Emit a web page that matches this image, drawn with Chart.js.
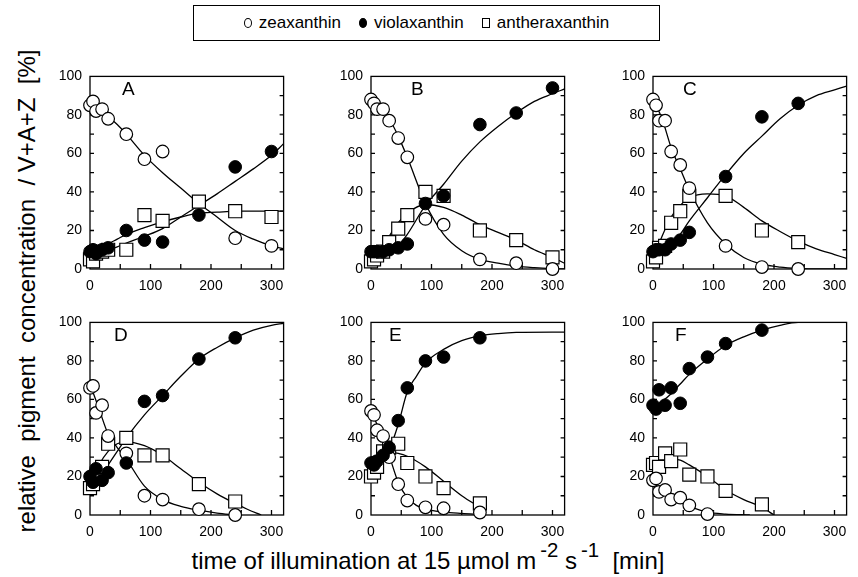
<!DOCTYPE html>
<html>
<head>
<meta charset="utf-8">
<script src="https://cdn.jsdelivr.net/npm/chart.js@4.4.1/dist/chart.umd.min.js"></script>
<style>
  body { margin: 0; background: #fff; }
  #page { position: relative; width: 858px; height: 577px; overflow: hidden;
          font-family: "Liberation Sans", Arial, sans-serif; color: #000; }
  #page canvas { position: absolute; }
  .letter { position: absolute; font-size: 19px; line-height: 19px; }
  #legend { position: absolute; left: 193px; top: 5px; width: 467px; height: 36px;
            border: 1.5px solid #000; box-sizing: border-box; font-size: 17px;
            display: flex; align-items: center; justify-content: center; }
  #legend .item { display: flex; align-items: center; margin: 0 9px; }
  #legend .sym { display: inline-block; width: 8px; height: 10px; margin-right: 7px;
                 box-sizing: border-box; border: 1.3px solid #000; }
  #legend .circ { border-radius: 50%; }
  #legend .fill { background: #000; }
  #ytitle { position: absolute; left: -273px; top: 277px; width: 600px; height: 28px;
            line-height: 28px; text-align: center; font-size: 24px; transform: rotate(-90deg);
            white-space: pre; }
  #xtitle { position: absolute; left: 128px; top: 547px; width: 600px; height: 28px;
            line-height: 28px; text-align: center; font-size: 24px; white-space: pre; }
  #xtitle sup { font-size: 0.85em; line-height: 0; position: relative; top: -0.15em; margin-left: 4px; }
</style>
</head>
<body>
<div id="page">
  <div id="legend">
    <span class="item"><span class="sym circ"></span>zeaxanthin</span>
    <span class="item"><span class="sym circ fill"></span>violaxanthin</span>
    <span class="item"><span class="sym"></span>antheraxanthin</span>
  </div>
  <div id="ytitle">relative  pigment  concentration  / V+A+Z  [%]</div>
  <div id="xtitle">time of illumination at 15 µmol m<sup>-2</sup> s<sup>-1</sup>  [min]</div>
</div>
<script>
// sampling times and measured values per panel
const tA = [0, 5, 10, 20, 30, 60, 90, 120, 180, 240, 300];
const zeaA = [85, 87, 82, 83, 78, 70, 57, 61, null, 16, 12];
const violaA = [9, 10, 8, 10, 11, 20, 15, 14, 28, 53, 61];
const antheraA = [5, 4, 8, 9, 10, 10, 28, 25, 35, 30, 27];

const tB = [0, 5, 10, 20, 30, 45, 60, 90, 120, 180, 240, 300];
const zeaB = [88, 86, 83, 83, 77, 68, 58, 26, 23, 5, 3, 0];
const violaB = [9, 9, 9, 9, 10, 11, 13, 34, 38, 75, 81, 94];
const antheraB = [4, 5, 7, 9, 14, 21, 28, 40, 38, 20, 15, 6];

const tC = [0, 5, 10, 20, 30, 45, 60, 120, 180, 240];
const zeaC = [88, 85, 77, 77, 61, 54, 42, 12, 1, 0];
const violaC = [9, 10, 10, 10, 13, 15, 19, 48, 79, 86];
const antheraC = [4, 6, 11, 12, 24, 30, 38, 38, 20, 14];

const tD = [0, 5, 10, 20, 30, 60, 90, 120, 180, 240];
const zeaD = [66, 67, 53, 57, 41, 32, 10, 8, 3, 0];
const violaD = [20, 17, 24, 18, 22, 27, 59, 62, 81, 92];
const antheraD = [14, 16, 20, 25, 37, 40, 31, 31, 16, 7];

const tE = [0, 5, 10, 20, 30, 45, 60, 90, 120, 180];
const zeaE = [54, 52, 44, 41, 30, 16, 7.5, 4, 3.5, 1.3];
const violaE = [27, 26, 28, 31, 35, 49, 66, 80, 82, 92];
const antheraE = [20, 22, 25, 33, 35, 37, 27, 20, 14, 6];

const tF = [0, 5, 10, 20, 30, 45, 60, 90, 120, 180];
const zeaF = [18, 19, 12, 13, 8, 9, 5, 0.5, null, null];
const violaF = [57, 55, 65, 57, 66, 58, 76, 82, 89, 96];
const antheraF = [26, 27, 25, 32, 28, 34, 21, 20, 12.5, 5.5];

// fitted curves: [time, value]
const fitZeaA = [[0,86],[15,83],[30,79],[45,75],[60,70],[90,59],[120,50],[150,42],[180,34],[210,27],[240,20],[270,15.5],[300,12],[320,10.5]];
const fitViolaA = [[0,7],[15,8],[30,10],[45,11.5],[60,13.5],[90,17],[120,21],[150,27],[180,33],[210,39],[240,45.5],[270,52],[300,59],[320,65]];
const fitAntheraA = [[0,8],[15,10],[30,13],[45,15.5],[60,18],[90,21.5],[120,24.5],[150,27],[180,29],[210,29.5],[240,30],[280,30],[320,30]];

const fitZeaB = [[0,88],[15,84],[30,78],[45,69],[60,58],[90,34],[120,18],[150,9.5],[180,5],[210,3],[240,1.5],[270,0.7],[300,0.2],[320,0]];
const fitViolaB = [[0,8],[15,8.5],[30,9.5],[45,12],[60,18],[90,33],[120,44],[150,56],[180,66],[210,74],[240,81],[270,87],[300,91],[320,93.5]];
const fitAntheraB = [[0,5],[15,10],[30,17],[45,24],[60,29],[90,33.5],[120,32],[150,28],[180,23],[210,19],[240,15],[270,10],[300,6],[320,3]];

const fitZeaC = [[0,88],[15,78],[30,63],[45,52],[60,41],[90,24],[120,13],[150,6],[180,2.5],[210,1],[240,0.3],[270,0],[320,0]];
const fitViolaC = [[0,9],[15,11],[30,13],[45,18],[60,25],[90,37],[120,49],[150,60],[180,69],[210,78],[240,85],[270,90],[300,93],[320,95]];
const fitAntheraC = [[0,5],[15,17],[30,27],[45,33],[60,37],[90,39],[120,38],[150,32],[180,25],[210,19.5],[240,14.5],[270,10.5],[300,7.5],[320,5.5]];

const fitZeaD = [[0,68],[15,55],[30,42],[45,35],[60,29],[90,15],[120,8],[150,4.5],[180,2.5],[210,1],[240,0]];
const fitViolaD = [[0,15],[15,19],[30,26],[45,33],[60,40],[90,52],[120,62],[150,72],[180,81],[210,87],[240,92],[270,96],[300,98.5],[320,99.5]];
const fitAntheraD = [[0,15],[15,26],[30,33],[45,37],[60,38],[90,36],[120,31],[150,24],[180,17],[210,11],[240,6],[260,3],[283,0]];

const fitZeaE = [[0,54],[10,47],[20,40],[30,31],[45,17],[60,9],[75,5],[90,3],[120,1.5],[150,0.8],[180,0.3]];
const fitViolaE = [[0,27],[15,29],[30,34],[45,47],[60,64],[75,72],[90,79],[120,86],[150,90.5],[180,93],[210,94.2],[240,94.8],[320,95]];
const fitAntheraE = [[0,30],[15,31.5],[30,32.5],[45,32],[60,30.5],[90,25],[120,17.5],[150,10],[180,4],[185,3]];

const fitZeaF = [[0,17],[15,12.5],[30,9],[45,6.5],[60,4.5],[90,1.5],[120,0.5],[160,0]];
const fitViolaF = [[0,56],[15,59],[30,63],[45,68],[60,73],[90,81],[120,88],[150,92.5],[180,96],[210,98.5],[240,100],[320,100]];
const fitAntheraF = [[0,28],[15,29],[30,29],[45,28.5],[60,26],[90,20],[120,13],[150,8],[180,4],[200,0]];

const xTicks = [0, 100, 200, 300];
const yTicks = [0, 20, 40, 60, 80, 100];

const panels = [
  { name: "A", t: tA, zea: zeaA, viola: violaA, anthera: antheraA, fits: [fitZeaA, fitViolaA, fitAntheraA] },
  { name: "B", t: tB, zea: zeaB, viola: violaB, anthera: antheraB, fits: [fitZeaB, fitViolaB, fitAntheraB] },
  { name: "C", t: tC, zea: zeaC, viola: violaC, anthera: antheraC, fits: [fitZeaC, fitViolaC, fitAntheraC] },
  { name: "D", t: tD, zea: zeaD, viola: violaD, anthera: antheraD, fits: [fitZeaD, fitViolaD, fitAntheraD] },
  { name: "E", t: tE, zea: zeaE, viola: violaE, anthera: antheraE, fits: [fitZeaE, fitViolaE, fitAntheraE] },
  { name: "F", t: tF, zea: zeaF, viola: violaF, anthera: antheraF, fits: [fitZeaF, fitViolaF, fitAntheraF] },
];

// plot box placement on the page (left, top of chart area) and letter offset
const boxLeft = [90, 371, 653];
const boxTop = [68, 314];
const letterDx = [32, 40, 30, 24, 18, 22];
const boxW = 196, boxH = 201;
const padL = 45, padT = 8, padR = 8, padB = 24;

// frame + inward ticks
const framePlugin = {
  id: "frame",
  beforeDatasetsDraw(chart) {
    const ctx = chart.ctx;
    const a = chart.chartArea;
    const xs = chart.scales.x, ys = chart.scales.y;
    ctx.save();
    ctx.strokeStyle = "#000";
    ctx.lineWidth = 1.3;
    ctx.strokeRect(a.left, a.top, a.right - a.left, a.bottom - a.top);
    ctx.beginPath();
    for (let v = 10; v < 100; v += 10) {
      const y = ys.getPixelForValue(v);
      ctx.moveTo(a.left, y); ctx.lineTo(a.left + 4, y);
      ctx.moveTo(a.right, y); ctx.lineTo(a.right - 4, y);
    }
    for (let v = 50; v <= 300; v += 50) {
      const x = xs.getPixelForValue(v);
      ctx.moveTo(x, a.bottom); ctx.lineTo(x, a.bottom - 5);
    }
    ctx.stroke();
    ctx.restore();
  }
};

function toXY(t, vals) {
  const out = [];
  t.forEach((x, i) => { if (vals[i] !== null) out.push({ x: x, y: vals[i] }); });
  return out;
}

function fitLine(pts) {
  return {
    data: pts.map(p => ({ x: p[0], y: p[1] })),
    showLine: true,
    borderColor: "#000",
    borderWidth: 1.3,
    pointRadius: 0,
    cubicInterpolationMode: "monotone",
    order: 10,
  };
}

const page = document.getElementById("page");

panels.forEach((p, i) => {
  const col = i % 3, row = Math.floor(i / 3);
  const canvas = document.createElement("canvas");
  canvas.width = boxW + padL + padR;
  canvas.height = boxH + padT + padB;
  canvas.style.left = (boxLeft[col] - padL) + "px";
  canvas.style.top = (boxTop[row] - padT) + "px";
  page.appendChild(canvas);

  const letter = document.createElement("div");
  letter.className = "letter";
  letter.textContent = p.name;
  letter.style.left = (boxLeft[col] + letterDx[i]) + "px";
  letter.style.top = (boxTop[row] + 11) + "px";
  page.appendChild(letter);

  new Chart(canvas, {
    type: "scatter",
    data: {
      datasets: [
        fitLine(p.fits[0]), fitLine(p.fits[1]), fitLine(p.fits[2]),
        {
          label: "antheraxanthin",
          data: toXY(p.t, p.anthera),
          pointStyle: "rect",
          pointRadius: 9.2,
          backgroundColor: "#fff",
          borderColor: "#000",
          borderWidth: 1.2,
          clip: false,
          order: 3,
        },
        {
          label: "zeaxanthin",
          data: toXY(p.t, p.zea),
          pointStyle: "circle",
          pointRadius: 6.3,
          backgroundColor: "#fff",
          borderColor: "#000",
          borderWidth: 1.2,
          clip: false,
          order: 2,
        },
        {
          label: "violaxanthin",
          data: toXY(p.t, p.viola),
          pointStyle: "circle",
          pointRadius: 6.3,
          backgroundColor: "#000",
          borderColor: "#000",
          borderWidth: 1,
          clip: false,
          order: 1,
        },
      ],
    },
    options: {
      responsive: false,
      animation: false,
      layout: { padding: { top: padT, right: padR, left: 0, bottom: 0 } },
      plugins: { legend: { display: false }, tooltip: { enabled: false } },
      scales: {
        x: {
          type: "linear",
          min: 0,
          max: 320,
          grid: { display: false, drawTicks: false },
          border: { display: false },
          afterBuildTicks: s => { s.ticks = xTicks.map(v => ({ value: v })); },
          afterFit: s => { s.height = padB; },
          ticks: { color: "#000", padding: 9, maxRotation: 0,
                   font: { family: "Liberation Sans", size: 14 } },
        },
        y: {
          min: 0,
          max: 100,
          grid: { display: false, drawTicks: false },
          border: { display: false },
          afterBuildTicks: s => { s.ticks = yTicks.map(v => ({ value: v })); },
          afterFit: s => { s.width = padL; },
          ticks: { color: "#000", padding: 8,
                   font: { family: "Liberation Sans", size: 14 } },
        },
      },
    },
    plugins: [framePlugin],
  });
});
</script>
</body>
</html>
